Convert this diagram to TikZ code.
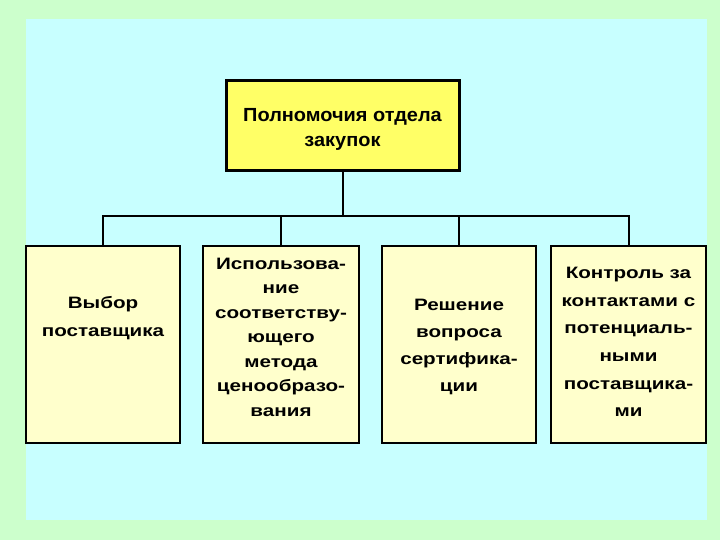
\documentclass[tikz,border=0pt]{standalone}
\usepackage{fontspec}
\setmainfont{Liberation Sans}
\newfontfamily\widefont[FakeStretch=1.25]{Liberation Sans}
\newfontfamily\topfont[FakeStretch=1.05]{Liberation Sans}
\definecolor{bggreen}{HTML}{CCFFCC}
\definecolor{bgcyan}{HTML}{C8FFFF}
\definecolor{topyellow}{HTML}{FFFF66}
\definecolor{boxyellow}{HTML}{FFFFCC}
\tikzset{
  topbox/.style={draw=black, line width=3pt, fill=topyellow, inner sep=0pt},
  childbox/.style={draw=black, line width=2pt, fill=boxyellow, inner sep=0pt},
  toptext/.style={align=center, font=\fontsize{19}{25}\selectfont\topfont\bfseries, inner sep=0pt},
  childtext/.style={align=center, inner sep=0pt},
  wire/.style={draw=black, line width=2pt}
}
\begin{document}
\begin{tikzpicture}[x=1pt,y=-1pt]
\useasboundingbox (0,0) rectangle (720,540);
\fill[bggreen] (0,0) rectangle (720,540);
\fill[bgcyan] (26,19) rectangle (707,520);
% top box
\node[topbox, minimum width=233pt, minimum height=90pt] (top) at (342.5,126) {};
\node[toptext] (toptxt) at (342.5,129) {Полномочия отдела\\закупок};
% child boxes
\node[childbox, minimum width=154pt, minimum height=197pt] (c1) at (103,344.5) {};
\node[childbox, minimum width=156pt, minimum height=197pt] (c2) at (281,344.5) {};
\node[childbox, minimum width=154pt, minimum height=197pt] (c3) at (459,344.5) {};
\node[childbox, minimum width=155pt, minimum height=197pt] (c4) at (628.5,344.5) {};
% texts
\node[childtext, font=\fontsize{16.5}{28}\selectfont\widefont\bfseries] (t1) at (103,318) {Выбор\\поставщика};
\node[childtext, font=\fontsize{16.5}{24.5}\selectfont\widefont\bfseries] (t2) at (281,337) {Использова-\\ние\\соответству-\\ющего\\метода\\ценообразо-\\вания};
\node[childtext, font=\fontsize{16.5}{26.7}\selectfont\widefont\bfseries] (t3) at (459,347) {Решение\\вопроса\\сертифика-\\ции};
\node[childtext, font=\fontsize{16.5}{27.6}\selectfont\widefont\bfseries] (t4) at (628.5,342) {Контроль за\\контактами с\\потенциаль-\\ными\\поставщика-\\ми};
% connectors
\coordinate (bus) at (342.5,216);
\draw[wire] (top.south) -- (bus);
\draw[wire] (c1.north) -- (c1.north |- bus) -- (c4.north |- bus) -- (c4.north);
\draw[wire] (c2.north) -- (c2.north |- bus);
\draw[wire] (c3.north) -- (c3.north |- bus);
\end{tikzpicture}
\end{document}
